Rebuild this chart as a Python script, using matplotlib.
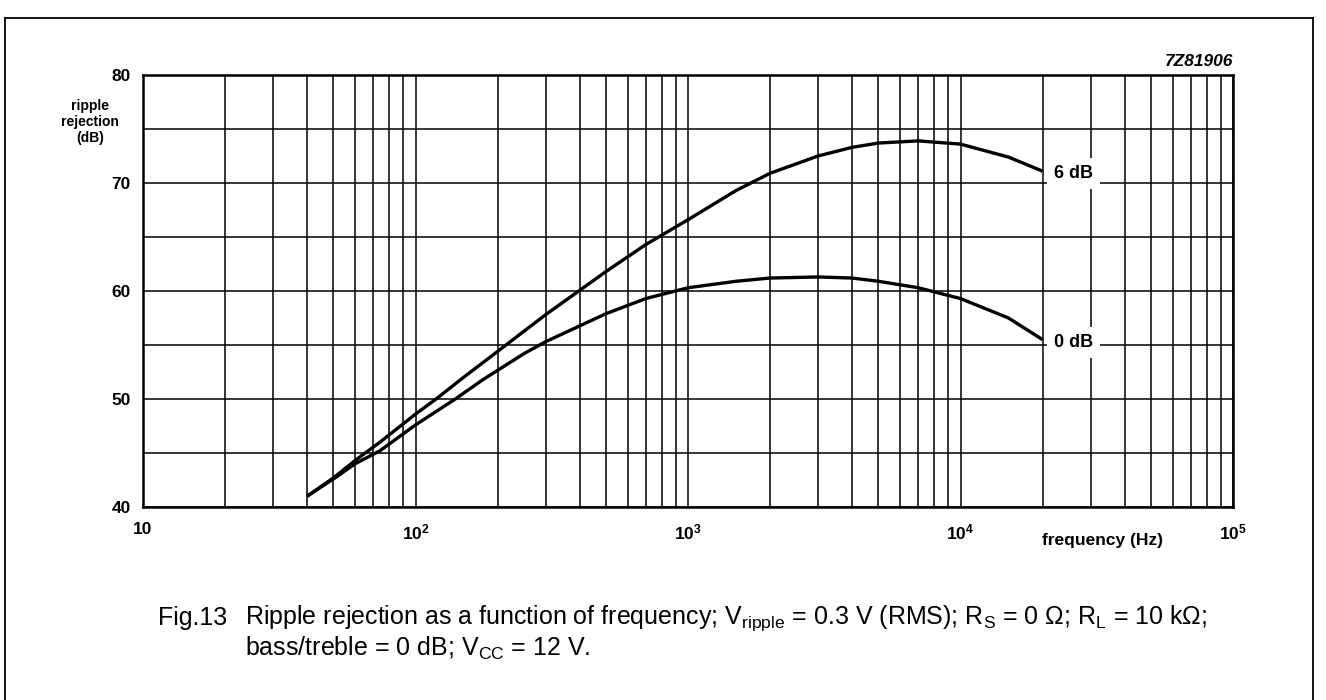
import matplotlib
matplotlib.use("Agg")
import matplotlib.pyplot as plt
from matplotlib.lines import Line2D

plt.rcParams['font.family'] = ['Liberation Sans', 'DejaVu Sans']
plt.rcParams['mathtext.fontset'] = 'custom'
plt.rcParams['mathtext.rm'] = 'Liberation Sans'
plt.rcParams['mathtext.bf'] = 'Liberation Sans:bold'

# ---- data ----
freq_6db = [40, 50, 60, 74, 100, 119, 150, 200, 300, 500, 700, 1000, 1500, 2000,
            3000, 4000, 5000, 7000, 10000, 15000, 20000]
rr_6db = [41.0, 42.7, 44.3, 46.0, 48.6, 50.0, 52.0, 54.4, 57.8, 61.8, 64.3, 66.6,
          69.3, 70.9, 72.5, 73.3, 73.7, 73.9, 73.6, 72.4, 71.1]

freq_0db = [40, 50, 60, 74, 100, 140, 177, 250, 300, 500, 700, 1000, 1500, 2000,
            3000, 4000, 5000, 7000, 10000, 15000, 20000]
rr_0db = [41.0, 42.6, 44.0, 45.2, 47.6, 50.0, 51.8, 54.2, 55.3, 57.9, 59.3, 60.3,
          60.9, 61.2, 61.3, 61.2, 60.9, 60.3, 59.3, 57.5, 55.5]

curve_labels = ["6 dB", "0 dB"]
label_y = [70.9, 55.2]
y_ticks = [40, 50, 60, 70, 80]
y_minor = [45, 55, 65, 75]
x_ticks = [10, 100, 1000, 10000, 100000]
x_ticklabels = ["10", r"$\mathbf{10^{2}}$", r"$\mathbf{10^{3}}$", r"$\mathbf{10^{4}}$", r"$\mathbf{10^{5}}$"]

W, H = 1326, 700
fig = plt.figure(figsize=(W / 100, H / 100), dpi=100)
fig.patch.set_facecolor('white')

# outer frame (open at the bottom edge of the image)
bx0, bx1, by = 5 / W, 1313 / W, 1 - 18 / H
for xs, ys in (([bx0, bx0], [-0.01, by]), ([bx1, bx1], [-0.01, by]), ([bx0, bx1], [by, by])):
    fig.add_artist(Line2D(xs, ys, transform=fig.transFigure, color='black', lw=1.3))

left, right, top, bottom = 143, 1233, 75, 507
ax = fig.add_axes([left / W, 1 - bottom / H, (right - left) / W, (bottom - top) / H])
ax.set_xscale('log')
ax.set_xlim(10, 1e5)
ax.set_ylim(40, 80)

# grid
minor_x = [k * 10 ** n for n in range(1, 5) for k in range(2, 10)]
ax.set_xticks(x_ticks)
ax.set_xticks(minor_x, minor=True)
ax.set_yticks(y_ticks)
ax.set_yticks(y_minor, minor=True)
ax.grid(which='both', color='black', lw=1.1)
ax.set_axisbelow(True)
ax.tick_params(which='both', length=0)
ax.set_xticklabels(x_ticklabels, fontsize=12.5, fontweight='bold')
ax.set_yticklabels([str(v) for v in y_ticks], fontsize=12.5, fontweight='bold')
ax.tick_params(axis='x', pad=11)
ax.tick_params(axis='y', pad=9)
ax.xaxis.set_minor_formatter(plt.NullFormatter())
for s in ax.spines.values():
    s.set_linewidth(1.8)

ax.plot(freq_6db, rr_6db, color='black', lw=2.4, solid_capstyle='butt', zorder=3)
ax.plot(freq_0db, rr_0db, color='black', lw=2.4, solid_capstyle='butt', zorder=3)

for lab, yv in zip(curve_labels, label_y):
    ax.text(2.6e4, yv, lab, ha='center', va='center', fontsize=13, fontweight='bold',
            bbox=dict(facecolor='white', edgecolor='none', pad=5), zorder=4)

# axis titles
fig.text(90 / W, 1 - 122 / H, "ripple\nrejection\n(dB)", ha='center', va='center',
         fontsize=10, fontweight='bold', linespacing=1.15)
fig.text(1103 / W, 1 - 541 / H, "frequency (Hz)", ha='center', va='center',
         fontsize=12.5, fontweight='bold')
fig.text(1233 / W, 1 - 61 / H, "7Z81906", ha='right', va='center',
         fontsize=12.5, fontweight='bold', fontstyle='italic')

# caption
cap_x0, cap_x1 = 158, 245
fig.text(cap_x0 / W, 1 - 618 / H, "Fig.13", ha='left', va='center', fontsize=18)
fig.text(cap_x1 / W, 1 - 618 / H,
         r"Ripple rejection as a function of frequency; V$_{\mathrm{ripple}}$ = 0.3 V (RMS); "
         r"R$_{\mathrm{S}}$ = 0 Ω; R$_{\mathrm{L}}$ = 10 kΩ;",
         ha='left', va='center', fontsize=18)
fig.text(cap_x1 / W, 1 - 648 / H, r"bass/treble = 0 dB; V$_{\mathrm{CC}}$ = 12 V.",
         ha='left', va='center', fontsize=18)

fig.savefig("out.png", dpi=100, facecolor='white')
